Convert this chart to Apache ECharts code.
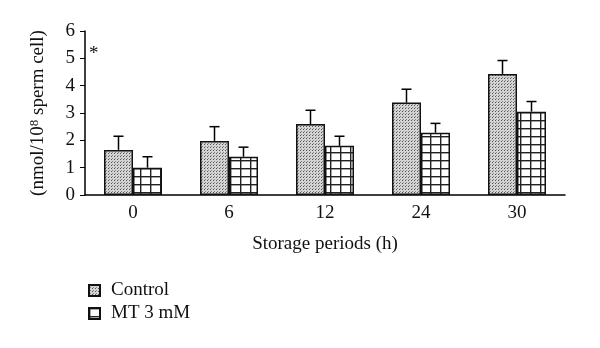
<!DOCTYPE html>
<html>
<head>
<meta charset="utf-8">
<script src="https://cdn.jsdelivr.net/npm/echarts@6/dist/echarts.min.js"></script>
<style>
  html, body { margin: 0; padding: 0; background: #fff; }
  #chart { width: 600px; height: 348px; }
</style>
</head>
<body>
<div id="chart"></div>
<script>
var periods = ['0', '6', '12', '24', '30'];
var controlVals = [1.65, 1.98, 2.6, 3.38, 4.43];
var controlErr = [0.5, 0.52, 0.5, 0.49, 0.49];
var mtVals = [1.0, 1.4, 1.8, 2.28, 3.05];
var mtErr = [0.4, 0.35, 0.35, 0.34, 0.37];

var serif = '"Liberation Serif", "DejaVu Serif", serif';
var barW = 29;

// stipple fill for Control
function dotPattern() {
  var c = document.createElement('canvas');
  c.width = 3; c.height = 3;
  var ctx = c.getContext('2d');
  ctx.fillStyle = '#d4d4d4';
  ctx.fillRect(0, 0, 3, 3);
  ctx.fillStyle = '#555';
  ctx.fillRect(0, 0, 1, 1);
  ctx.fillStyle = '#888';
  ctx.fillRect(1, 2, 1, 1);
  return c;
}
// grid fill for MT 3 mM
function gridPattern() {
  var c = document.createElement('canvas');
  c.width = 10; c.height = 8;
  var ctx = c.getContext('2d');
  ctx.fillStyle = '#fff';
  ctx.fillRect(0, 0, 10, 8);
  ctx.fillStyle = '#222';
  ctx.fillRect(0, 0, 10, 1.4);
  ctx.fillRect(0, 0, 1.4, 8);
  return c;
}
var dotFill = { image: dotPattern(), repeat: 'repeat' };
var gridFill = { image: gridPattern(), repeat: 'repeat' };

function errSeries(vals, errs, offset) {
  return {
    type: 'custom',
    silent: true,
    z: 5,
    data: vals.map(function (v, i) { return [i, v, v + errs[i]]; }),
    renderItem: function (params, api) {
      var lo = api.coord([api.value(0), api.value(1)]);
      var hi = api.coord([api.value(0), api.value(2)]);
      var x = lo[0] + offset;
      var style = { stroke: '#000', lineWidth: 1.5 };
      return {
        type: 'group',
        children: [
          { type: 'line', shape: { x1: x, y1: lo[1], x2: x, y2: hi[1] }, style: style },
          { type: 'line', shape: { x1: x - 5, y1: hi[1], x2: x + 5, y2: hi[1] }, style: style }
        ]
      };
    }
  };
}

var chart = echarts.init(document.getElementById('chart'));
chart.setOption({
  animation: false,
  grid: { left: 85, right: 35, top: 31, bottom: 153 },
  legend: {
    orient: 'vertical',
    left: 83,
    top: 276,
    icon: 'rect',
    itemWidth: 11,
    itemHeight: 11,
    itemGap: 4,
    textStyle: { fontFamily: serif, fontSize: 19, color: '#111', padding: [0, 0, 0, 6] },
    data: ['Control', 'MT 3 mM']
  },
  graphic: [{
    type: 'text',
    left: 89,
    top: 45,
    style: { text: '*', font: '19px ' + serif, fill: '#111' }
  }],
  xAxis: {
    type: 'category',
    data: periods,
    name: 'Storage periods (h)',
    nameLocation: 'middle',
    nameGap: 40,
    nameTextStyle: { fontFamily: serif, fontSize: 19, color: '#111' },
    axisLine: { lineStyle: { color: '#000', width: 1.5 } },
    axisTick: { length: 4, lineStyle: { color: '#000' } },
    axisLabel: { fontFamily: serif, fontSize: 19, color: '#111', margin: 9 }
  },
  yAxis: {
    type: 'value',
    min: 0,
    max: 6,
    interval: 1,
    name: '(nmol/10{sup|8} sperm cell)',
    nameLocation: 'middle',
    nameGap: 36,
    nameTextStyle: {
      fontFamily: serif, fontSize: 19, color: '#111',
      rich: { sup: { fontFamily: serif, fontSize: 13, color: '#111', verticalAlign: 'top', padding: [0, 0, 8, 0] } }
    },
    axisLine: { show: true, lineStyle: { color: '#000', width: 1.5 } },
    axisTick: { show: true, length: 5, lineStyle: { color: '#000' } },
    splitLine: { show: false },
    axisLabel: { fontFamily: serif, fontSize: 19, color: '#111', margin: 10 }
  },
  series: [
    {
      name: 'Control',
      type: 'bar',
      data: controlVals,
      barWidth: barW,
      barGap: '0%',
      itemStyle: { color: dotFill, borderColor: '#111', borderWidth: 1.5 }
    },
    {
      name: 'MT 3 mM',
      type: 'bar',
      data: mtVals,
      barWidth: barW,
      itemStyle: { color: gridFill, borderColor: '#111', borderWidth: 1.5 }
    },
    errSeries(controlVals, controlErr, -barW / 2),
    errSeries(mtVals, mtErr, barW / 2)
  ]
});
</script>
</body>
</html>
